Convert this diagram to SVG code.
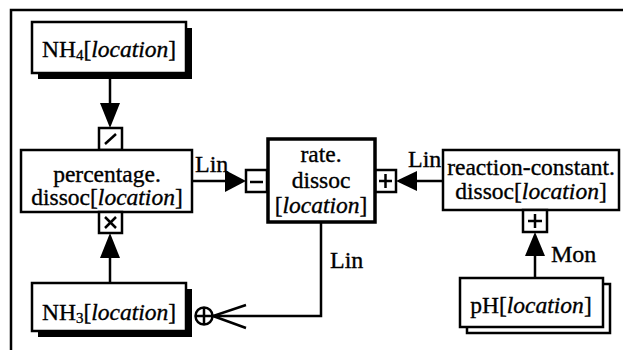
<svg xmlns="http://www.w3.org/2000/svg" width="623" height="350" viewBox="0 0 623 350">
<style>
  text { font-family: "Liberation Serif", "Times New Roman", serif; font-size: 23.5px; fill: #000; stroke: #000; stroke-width: 0.35; }
  .c { text-anchor: middle; }
  .i { font-style: italic; }
  .box { fill: #fff; stroke: #000; stroke-width: 2.5; }
  .thick { fill: #fff; stroke: #000; stroke-width: 3.5; }
  .sb { fill: #fff; stroke: #000; stroke-width: 2.5; }
  .shadow { fill: #000; }
  .ln { stroke: #000; stroke-width: 2.5; fill: none; }
  .ah { fill: #000; }
  .lbl { font-size: 24px; }
</style>
<rect width="623" height="350" fill="#fff"/>
<path d="M11,350 V10 H623" class="ln" stroke-width="2"/>

<g id="connectors">
  <line x1="110" y1="78" x2="110" y2="104" class="ln"/>
  <polygon points="100,103 120,103 110,128" class="ah"/>
  <line x1="110" y1="258" x2="110" y2="283" class="ln"/>
  <polygon points="100,258 120,258 110,233" class="ah"/>
  <line x1="192" y1="181" x2="227" y2="181" class="ln"/>
  <polygon points="225,170 225,192 246,181" class="ah"/>
  <line x1="443" y1="181" x2="415" y2="181" class="ln"/>
  <polygon points="417,171 417,191 396,181" class="ah"/>
  <line x1="535" y1="278" x2="535" y2="254" class="ln"/>
  <polygon points="525,256 545,256 535,232" class="ah"/>
  <polyline points="321,222 321,316 213,316" class="ln"/>
  <polyline points="246,305 213,316 246,328" class="ln"/>
  <circle cx="204" cy="316" r="8.5" fill="#fff" stroke="#000" stroke-width="2.5"/>
  <line x1="204" y1="308" x2="204" y2="324" class="ln" stroke-width="2"/>
  <line x1="196" y1="316" x2="212" y2="316" class="ln" stroke-width="2"/>
  <text x="195" y="172" class="lbl">Lin</text>
  <text x="408" y="167" class="lbl">Lin</text>
  <text x="330" y="268" class="lbl">Lin</text>
  <text x="551" y="262" class="lbl">Mon</text>
</g>

<g id="nh4">
  <rect x="38" y="28" width="154" height="51" class="shadow"/>
  <rect x="32" y="22" width="154" height="51" class="box"/>
  <text x="109" y="57" class="c">NH<tspan font-size="15" dy="3">4</tspan><tspan dy="-3">[</tspan><tspan class="i">location</tspan>]</text>
</g>

<g id="percentage">
  <rect x="99" y="128" width="23" height="22" class="sb"/>
  <line x1="105" y1="144" x2="116" y2="134" class="ln"/>
  <rect x="21" y="150" width="171" height="62" class="box"/>
  <text x="107" y="182" class="c">percentage.</text>
  <text x="107" y="205" class="c">dissoc[<tspan class="i">location</tspan>]</text>
  <rect x="99" y="212" width="23" height="21" class="sb"/>
  <line x1="105" y1="217" x2="116" y2="228" class="ln"/>
  <line x1="116" y1="217" x2="105" y2="228" class="ln"/>
</g>

<g id="nh3">
  <rect x="38" y="289" width="154" height="48" class="shadow"/>
  <rect x="32" y="283" width="154" height="48" class="box"/>
  <text x="109" y="320" class="c">NH<tspan font-size="15" dy="3">3</tspan><tspan dy="-3">[</tspan><tspan class="i">location</tspan>]</text>
</g>

<g id="rate">
  <rect x="246" y="170" width="21" height="22" class="sb"/>
  <line x1="250" y1="182" x2="263" y2="182" class="ln"/>
  <rect x="375" y="170" width="21" height="22" class="sb"/>
  <line x1="379" y1="181" x2="392" y2="181" class="ln"/>
  <line x1="385.5" y1="174" x2="385.5" y2="188" class="ln"/>
  <rect x="268" y="139" width="107" height="83" class="thick"/>
  <text x="321" y="162" class="c">rate.</text>
  <text x="321" y="188" class="c">dissoc</text>
  <text x="321" y="213" class="c">[<tspan class="i">location</tspan>]</text>
</g>

<g id="reaction">
  <rect x="443" y="150" width="176" height="60" class="box"/>
  <text x="531" y="175" class="c">reaction-constant.</text>
  <text x="531" y="199" class="c">dissoc[<tspan class="i">location</tspan>]</text>
  <rect x="523" y="210" width="24" height="22" class="sb"/>
  <line x1="528" y1="221" x2="542" y2="221" class="ln"/>
  <line x1="535" y1="214" x2="535" y2="228" class="ln"/>
</g>

<g id="ph">
  <rect x="467" y="284" width="143" height="49" class="box" stroke-width="3"/>
  <rect x="460" y="278" width="143" height="49" class="box"/>
  <text x="531" y="313" class="c">pH[<tspan class="i">location</tspan>]</text>
</g>
</svg>
